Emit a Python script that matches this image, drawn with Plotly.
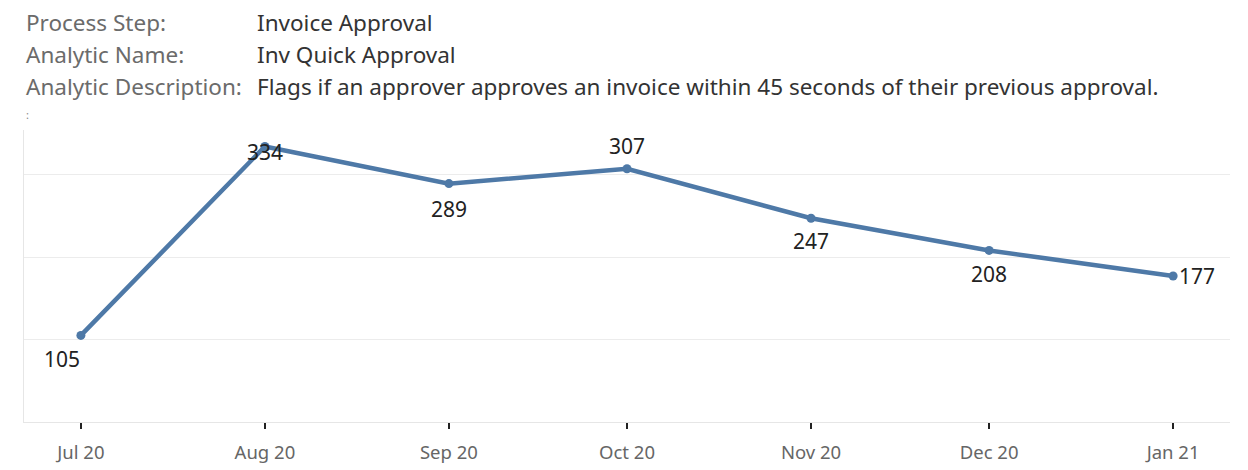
import plotly.graph_objects as go

months = ["2020-07-01", "2020-08-01", "2020-09-01", "2020-10-01", "2020-11-01", "2020-12-01", "2021-01-01"]
counts = [105, 334, 289, 307, 247, 208, 177]
# label offsets (pixels) relative to each point
label_dx = [-19, 0, 0, 0, 0, 0, 24]
label_dy = [-24, -5, -25, 23, -23, -24, 0]

header_labels = ["Process Step:", "Analytic Name:", "Analytic Description:"]
header_values = ["Invoice Approval", "Inv Quick Approval",
                 "Flags if an approver approves an invoice within 45 seconds of their previous approval."]

# page body has an 8px default margin, so the figure is drawn 8px in from the window corner
OFF = 8
W, H = 1248 - OFF, 470 - OFF
ml, mt = 24 - OFF, 130 - OFF
mr = W - (1230 - OFF)
mb = H - (422 - OFF)
pw, ph = W - ml - mr, H - mt - mb

fig = go.Figure()
fig.add_trace(go.Scatter(
    x=months, y=counts, mode="lines+markers",
    line=dict(color="#4e79a7", width=4.5),
    marker=dict(color="#4e79a7", size=9),
    cliponaxis=False, hoverinfo="x+y",
))

ann = []
for m, v, dx, dy in zip(months, counts, label_dx, label_dy):
    ann.append(dict(x=m, y=v, xref="x", yref="y", text=str(v), showarrow=False,
                    xshift=dx, yshift=dy, xanchor="center", yanchor="middle",
                    font=dict(family="Noto Sans", size=21, color="#222222")))

for i, (lab, val) in enumerate(zip(header_labels, header_values)):
    ypix = 22 + 32 * i - OFF
    yp = (H - mb - ypix) / ph
    ann.append(dict(x=0, y=yp, xref="paper", yref="paper", xanchor="left", yanchor="middle",
                    text=lab, showarrow=False,
                    font=dict(family="Noto Sans", size=22.5, color="#6b6b6b")))
    ann.append(dict(x=(255 - OFF - ml) / pw, y=yp, xref="paper", yref="paper", xanchor="left",
                    yanchor="middle", text=val, showarrow=False,
                    font=dict(family="Noto Sans", size=22.5, color="#333333")))
ann.append(dict(x=0, y=(H - mb - (115 - OFF)) / ph, xref="paper", yref="paper", xanchor="left",
                yanchor="middle", text=":", showarrow=False,
                font=dict(family="Noto Sans", size=11, color="#888888")))

fig.update_layout(
    width=W, height=H,
    margin=dict(l=ml, r=mr, t=mt, b=mb, autoexpand=False),
    paper_bgcolor="white", plot_bgcolor="white",
    showlegend=False,
    annotations=ann,
    xaxis=dict(type="date", range=["2020-06-21 10:00", "2021-01-10 14:00"],
               tickvals=months, tickformat="%b %y",
               tickfont=dict(family="Noto Sans", size=18.5, color="#666666"),
               showgrid=False, showline=True, linecolor="#e6e6e6", linewidth=1,
               ticks="outside", ticklen=6, tickwidth=2, tickcolor="#222222",
               ticklabelstandoff=8, zeroline=False, automargin=False),
    yaxis=dict(range=[0, 354], tickvals=[100, 200, 300], showticklabels=False,
               showgrid=True, gridcolor="#ececec", gridwidth=1,
               showline=True, linecolor="#e6e6e6", linewidth=1,
               zeroline=False, ticks="", automargin=False),
)

fig.write_html("out.html")
